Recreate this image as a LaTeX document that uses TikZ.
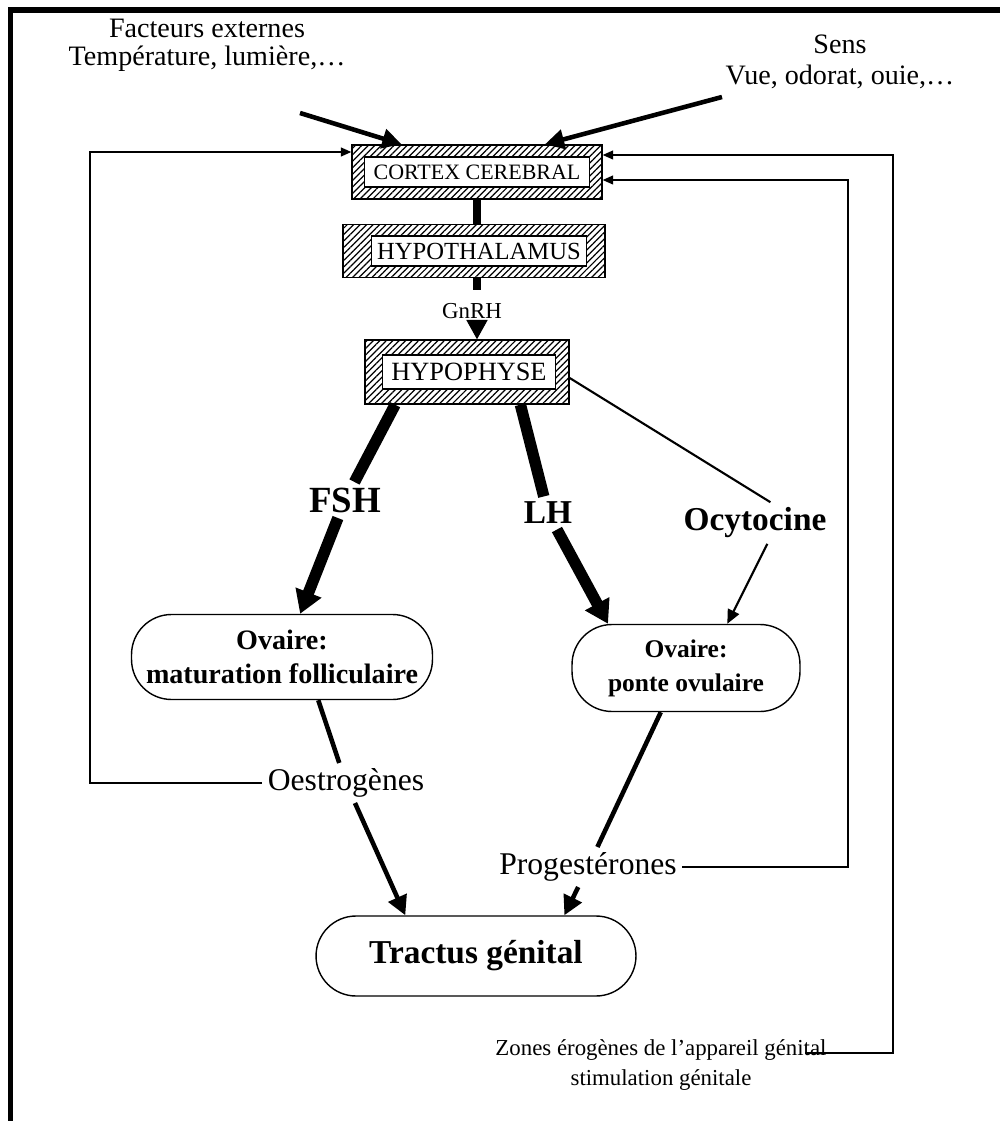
\documentclass[tikz,border=0pt]{standalone}
\usepackage{fontspec}
\setmainfont{Liberation Serif}
\usetikzlibrary{arrows.meta, positioning, calc, patterns.meta}

\begin{document}
\begin{tikzpicture}[x=0.02cm, y=-0.02cm,
        hatch/.style={rectangle, draw, thick, inner sep=0pt,
                      pattern={Lines[angle=45, distance=2.6pt, line width=0.7pt]}},
        inbox/.style={rectangle, draw, thick, fill=white, inner sep=0pt,
                      font=\fontsize{13}{15}\selectfont},
        ovbox/.style={rectangle, rounded corners=0.8cm, draw, thick, align=center,
                      font=\bfseries\fontsize{14.5}{19.5}\selectfont},
        lbl/.style={inner sep=3pt, font=\fontsize{18}{20}\selectfont},
        hormone/.style={inner sep=3pt, font=\bfseries\fontsize{19}{22}\selectfont},
        fat/.style={line width=6.5pt},
        bar/.style={line width=4.5pt},
        mid/.style={line width=2.6pt},
        thin/.style={line width=1.2pt},
        fb/.style={line width=1pt, -{Triangle[length=6pt, width=5pt]}},
        bigtip/.style={-{Triangle[length=13pt, width=15pt]}},
        midtip/.style={-{Triangle[length=11pt, width=11pt]}}]
        \useasboundingbox (0,0) rectangle (1000,1121);
        \draw[line width=3.4pt] (10.5,1121) -- (10.5,10) -- (1000,10);

        \node[lbl, align=center, font=\fontsize{16}{16}\selectfont]
              (facteurs) at (207,45) {Facteurs externes\\Température, lumière,…};
        \node[lbl, align=center, font=\fontsize{16}{17.5}\selectfont]
              (sens) at (840,62) {Sens\\Vue, odorat, ouie,…};

        \node[hatch, minimum width=5cm, minimum height=1.08cm] (cortexH) at (477,172) {};
        \node[inbox, minimum width=4.5cm, minimum height=0.6cm,
              font=\fontsize{12.5}{14}\selectfont] (cortex) at (477,172) {CORTEX CEREBRAL};
        \node[hatch, minimum width=5.24cm, minimum height=1.06cm] (hypoH) at (474,251) {};
        \node[inbox, minimum width=4.3cm, minimum height=0.6cm,
              font=\fontsize{14}{16}\selectfont] (hypo) at (479,251) {HYPOTHALAMUS};
        \node[lbl, font=\fontsize{13}{15}\selectfont] (gnrh) at (472,311) {GnRH};
        \node[hatch, minimum width=4.08cm, minimum height=1.28cm] (physeH) at (467,372) {};
        \node[inbox, minimum width=3.46cm, minimum height=0.68cm,
              font=\fontsize{15}{17}\selectfont] (physe) at (469,372) {HYPOPHYSE};

        \node[hormone, font=\bfseries\fontsize{21}{24}\selectfont] (fsh) at (345,500) {FSH};
        \node[hormone] (lh) at (548,513) {LH};
        \node[hormone] (ocyto) at (755,523) {Ocytocine};

        \node[ovbox, minimum width=6.02cm, minimum height=1.7cm,
              font=\bfseries\fontsize{16}{19.5}\selectfont]
              (matur) at (282,657) {Ovaire:\\maturation folliculaire};
        \node[ovbox, minimum width=4.56cm, minimum height=1.74cm]
              (ponte) at (686,668) {Ovaire:\\ponte ovulaire};

        \node[lbl] (oestro) at (346,783) {Oestrogènes};
        \node[lbl] (proges) at (588,867) {Progestérones};

        \node[ovbox, minimum width=6.4cm, minimum height=1.6cm,
              font=\bfseries\fontsize{19}{22}\selectfont] (tractus) at (476,956) {Tractus génital};
        \node[align=center, font=\fontsize{13}{17}\selectfont]
              (zones) at (661,1065) {Zones érogènes de l'appareil génital\\stimulation génitale};

        \coordinate (fstart) at (300,113);
        \coordinate (sstart) at (722,97);
        \coordinate (lftop) at (90,152);
        \coordinate (rtin) at (848,180);
        \coordinate (rtout) at (893,155);
        \coordinate (zout) at (805,1053);

        \draw[mid, midtip] (fstart) -- ($(cortexH.north west)!0.2!(cortexH.north east)$);
        \draw[mid, midtip] (sstart) -- ($(cortexH.north west)!0.77!(cortexH.north east)$);

        \draw[bar] (cortexH.south) -- (cortexH.south |- hypoH.north);
        \draw[bar] (cortexH.south |- hypoH.south) -- ++(0,12);
        \draw[thick, -{Triangle[length=11pt, width=12pt]}]
              (cortexH.south |- gnrh.south) -- (cortexH.south |- physeH.north);

        \draw[fat] ($(physeH.south west)!0.15!(physeH.south east)$) -- (fsh);
        \draw[fat, bigtip] (fsh) -- ($(matur.north west)!0.56!(matur.north east)$);
        \draw[fat] ($(physeH.south west)!0.76!(physeH.south east)$) -- (lh);
        \draw[fat, bigtip] (lh) -- ($(ponte.north west)!0.16!(ponte.north east)$);
        \draw[thin] ($(physeH.east)+(0,6)$) -- ($(ocyto.north west)!0.6!(ocyto.north east)$);
        \draw[thin, -{Triangle[length=8pt, width=7pt]}]
              ($(ocyto.south west)!0.58!(ocyto.south east)$)
              -- ($(ponte.north west)!0.68!(ponte.north east)$);

        \draw[mid] ($(matur.south west)!0.62!(matur.south east)$) -- (oestro);
        \draw[mid, midtip] (oestro) -- ($(tractus.north west)!0.28!(tractus.north east)$);
        \draw[mid] ($(ponte.south west)!0.39!(ponte.south east)$) -- (proges);
        \draw[mid, midtip] (proges) -- ($(tractus.north west)!0.775!(tractus.north east)$);

        \draw[fb] (oestro.west) -| (lftop) -- (cortexH.west |- lftop);
        \draw[fb] (proges.east) -| (rtin) -- (cortexH.east |- rtin);
        \draw[fb] (zout) -| (rtout) -- (cortexH.east |- rtout);
      \end{tikzpicture}
\end{document}
